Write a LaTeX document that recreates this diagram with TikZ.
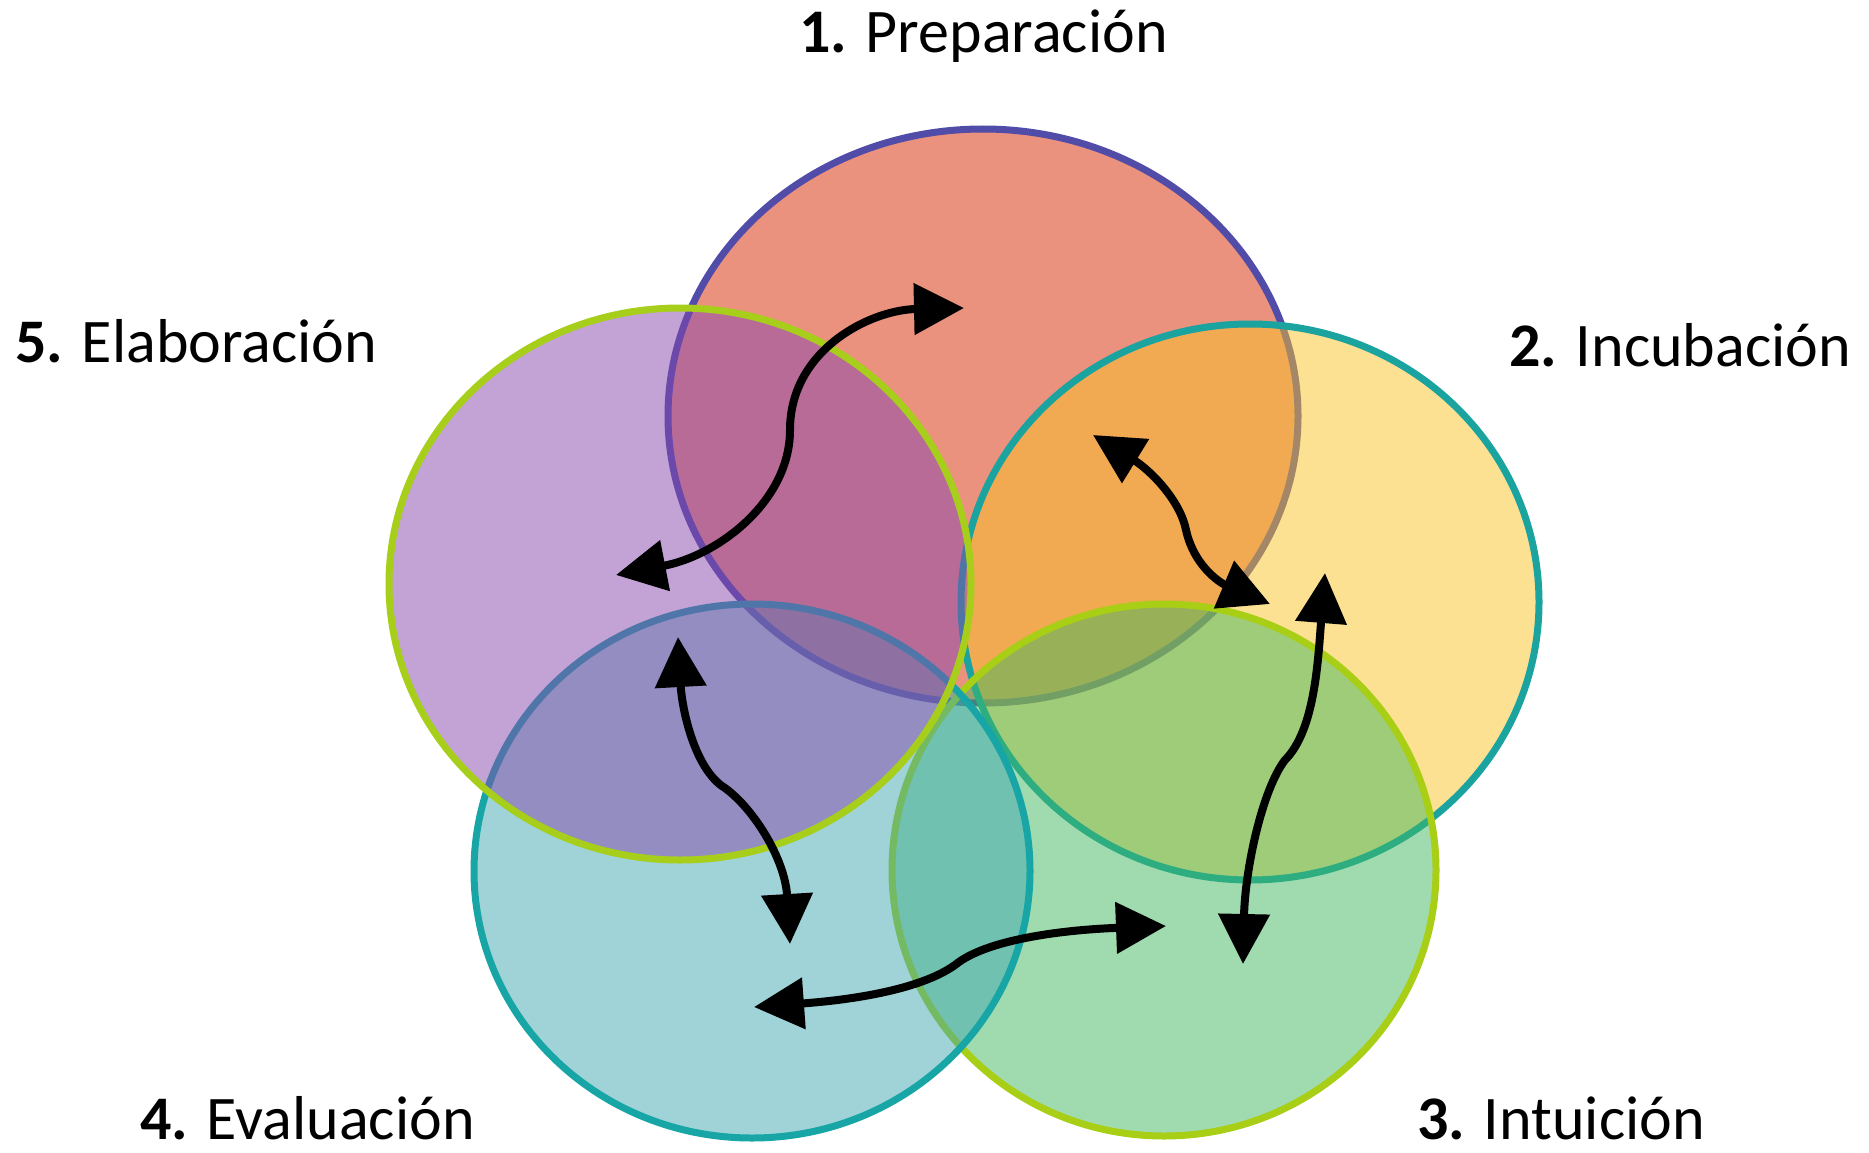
\documentclass[tikz,border=0pt]{standalone}
\usepackage{fontspec}
\setmainfont{Carlito}
\usetikzlibrary{shapes.geometric,arrows.meta}
\definecolor{fRed}{RGB}{215,37,0}
\definecolor{bRed}{RGB}{80,76,168}
\definecolor{fYel}{RGB}{249,195,37}
\definecolor{bYel}{RGB}{27,163,160}
\definecolor{fGrn}{RGB}{65,183,97}
\definecolor{bGrn}{RGB}{168,206,22}
\definecolor{fTea}{RGB}{65,167,177}
\definecolor{bTea}{RGB}{23,165,165}
\definecolor{fPur}{RGB}{135,71,173}
\definecolor{bPur}{RGB}{166,206,26}
\begin{document}
\begin{tikzpicture}[x=1pt,y=-1pt,
  blob/.style={ellipse, inner sep=0pt, line width=7pt, fill opacity=0.5, draw opacity=1},
  lbl/.style={anchor=base west, inner sep=0pt, font=\fontsize{62}{74}\selectfont},
  link/.style={line width=8pt, black, arrows={Triangle[length=50pt,width=50pt]-Triangle[length=50pt,width=50pt]}}]
\useasboundingbox (0,0) rectangle (1869,1153);

% circles (drawn in stacking order)
\node[blob, fill=fRed, draw=bRed, minimum width=630pt, minimum height=574pt] (c1) at (983,416) {};
\node[blob, fill=fYel, draw=bYel, minimum width=578pt, minimum height=556pt] (c2) at (1250,602) {};
\node[blob, fill=fGrn, draw=bGrn, minimum width=544pt, minimum height=532pt] (c3) at (1164,870) {};
\node[blob, fill=fTea, draw=bTea, minimum width=556pt, minimum height=534pt] (c4) at (752,871) {};
\node[blob, fill=fPur, draw=bPur, minimum width=582pt, minimum height=552pt] (c5) at (680,584) {};

% labels
\node[lbl] (l1) at (799,53) {\textbf{1.} Preparación};
\node[lbl] (l2) at (1509,366) {\textbf{2.} Incubación};
\node[lbl] (l3) at (1417,1139) {\textbf{3.} Intuición};
\node[lbl] (l4) at (140,1139) {\textbf{4.} Evaluación};
\node[lbl] (l5) at (15,362) {\textbf{5.} Elaboración};

% arrow end points
\coordinate (a1) at (616,575);
\coordinate (a2) at (964,308);
\coordinate (b1) at (1093,435);
\coordinate (b2) at (1270,604);
\coordinate (p1) at (1325,573);
\coordinate (p2) at (1243,964);
\coordinate (d1) at (754,1007);
\coordinate (d2) at (1166,926);
\coordinate (e1) at (678,637);
\coordinate (e2) at (790,944);

% arrows
\draw[link] (a1) .. controls (720,555) and (790,500) .. (790,430) .. controls (790,350) and (870,310) .. (a2);
\draw[link] (b1) .. controls (1150,470) and (1180,500) .. (1186,530) .. controls (1195,570) and (1225,585) .. (b2);
\draw[link] (p1) .. controls (1318,660) and (1315,730) .. (1285,760) .. controls (1262,790) and (1245,870) .. (p2);
\draw[link] (d1) .. controls (850,1000) and (920,990) .. (955,965) .. controls (985,940) and (1060,930) .. (d2);
\draw[link] (e1) .. controls (682,710) and (695,770) .. (725,788) .. controls (755,810) and (785,860) .. (e2);
\end{tikzpicture}
\end{document}
